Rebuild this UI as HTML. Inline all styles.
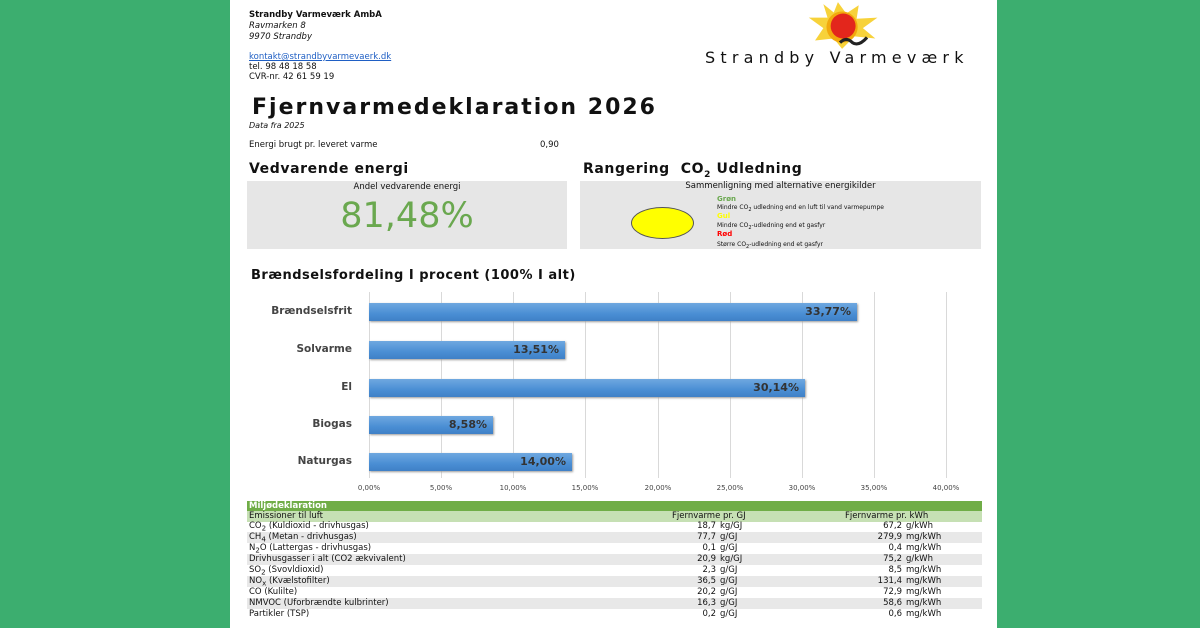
<!DOCTYPE html>
<html><head><meta charset="utf-8"><style>
*{margin:0;padding:0;box-sizing:border-box}
body{width:1200px;height:628px;background:#3cae6f;position:relative;overflow:hidden;font-family:"DejaVu Sans","Liberation Sans",sans-serif;color:#111}
.page{position:absolute;left:230px;top:0;width:767px;height:628px;background:#fff}
.a{position:absolute;white-space:nowrap}
.s{font-size:8.5px}
.grid{position:absolute;top:292px;width:1px;height:186px;background:#d9d9d9}
.bar{position:absolute;left:369px;height:18px;background:linear-gradient(#6fa8e0,#4a8ed4 60%,#3f80c6);box-shadow:1px 1px 2px #999;font-weight:bold;font-size:11px;color:#333;text-align:right;padding-right:6px;line-height:18px}
.cat{position:absolute;right:848px;font-size:10.5px;font-weight:bold;color:#444}
.tick{position:absolute;top:484px;font-size:7px;color:#444;width:40px;margin-left:-20px;text-align:center}
.row{position:absolute;left:247px;width:735px;height:11px;font-size:8.5px;line-height:11px}
.row span{position:absolute}
.g{background:#e8e8e8}
</style></head><body>
<div class="page"></div>
<div class="a s" style="left:249px;top:10px;font-weight:bold">Strandby Varmeværk AmbA</div>
<div class="a s" style="left:249px;top:21px;font-style:italic">Ravmarken 8</div>
<div class="a s" style="left:249px;top:32px;font-style:italic">9970 Strandby</div>
<div class="a s" style="left:249px;top:52px;color:#1f5fc4;text-decoration:underline">kontakt@strandbyvarmevaerk.dk</div>
<div class="a s" style="left:249px;top:62px">tel. 98 48 18 58</div>
<div class="a s" style="left:249px;top:72px">CVR-nr. 42 61 59 19</div>
<svg class="a" style="left:788px;top:1px" width="104" height="50" viewBox="0 0 100 48">
<polygon points="48,1 56,12 68,4 66,17 86,16 72,26 84,36 64,34 52,46 44,36 26,38 34,26 20,16 38,16 34,3 44,11" fill="#f7d23a"/>
<circle cx="52" cy="25" r="15" fill="#f2a90d"/><circle cx="53" cy="24" r="12" fill="#e3261c"/>
<path d="M50,40 q6,-6 12,0 q6,4 14,-5" stroke="#222" stroke-width="3" fill="none"/>
</svg>
<div class="a" style="left:705px;top:48px;font-size:16px;letter-spacing:5.2px;color:#111">Strandby Varmeværk</div>
<div class="a" style="left:252px;top:95px;font-size:22px;letter-spacing:2px;font-weight:bold">Fjernvarmedeklaration 2026</div>
<div class="a" style="left:249px;top:121px;font-size:8px;font-style:italic">Data fra 2025</div>
<div class="a s" style="left:249px;top:140px">Energi brugt pr. leveret varme</div>
<div class="a s" style="left:540px;top:140px">0,90</div>
<div class="a" style="left:249px;top:161px;font-size:14px;letter-spacing:0.6px;font-weight:bold">Vedvarende energi</div>
<div class="a" style="left:583px;top:161px;font-size:14px;letter-spacing:0.6px;font-weight:bold">Rangering&nbsp; CO<sub style="font-size:9px">2</sub> Udledning</div>
<div class="a" style="left:247px;top:181px;width:320px;height:68px;background:#e6e6e6"></div>
<div class="a s" style="left:247px;top:182px;width:320px;text-align:center">Andel vedvarende energi</div>
<div class="a" style="left:247px;top:196px;width:320px;text-align:center;font-size:35px;color:#6aa84f">81,48%</div>
<div class="a" style="left:580px;top:181px;width:401px;height:68px;background:#e6e6e6"></div>
<div class="a s" style="left:580px;top:181px;width:401px;text-align:center">Sammenligning med alternative energikilder</div>
<div class="a" style="left:631px;top:207px;width:63px;height:32px;border-radius:50%;background:#ffff00;border:1px solid #555"></div>
<div class="a" style="left:717px;top:195px;font-size:7px;font-weight:bold;color:#6aa84f">Grøn</div>
<div class="a" style="left:717px;top:204px;font-size:6px">Mindre CO<sub>2</sub> udledning end en luft til vand varmepumpe</div>
<div class="a" style="left:717px;top:212px;font-size:7px;font-weight:bold;color:#ffff00">Gul</div>
<div class="a" style="left:717px;top:222px;font-size:6px">Mindre CO<sub>2</sub>-udledning end et gasfyr</div>
<div class="a" style="left:717px;top:230px;font-size:7px;font-weight:bold;color:#ff0000">Rød</div>
<div class="a" style="left:717px;top:241px;font-size:6px">Større CO<sub>2</sub>-udledning end et gasfyr</div>
<div class="a" style="left:251px;top:268px;font-size:13px;letter-spacing:0.5px;font-weight:bold">Brændselsfordeling I procent (100% I alt)</div>
<div class="grid" style="left:369px"></div><div class="grid" style="left:441px"></div><div class="grid" style="left:513px"></div><div class="grid" style="left:585px"></div><div class="grid" style="left:658px"></div><div class="grid" style="left:730px"></div><div class="grid" style="left:802px"></div><div class="grid" style="left:874px"></div><div class="grid" style="left:946px"></div>
<div class="bar" style="top:303px;width:488px">33,77%</div>
<div class="bar" style="top:341px;width:196px">13,51%</div>
<div class="bar" style="top:379px;width:436px">30,14%</div>
<div class="bar" style="top:416px;width:124px">8,58%</div>
<div class="bar" style="top:453px;width:203px">14,00%</div>
<div class="cat" style="top:305px">Brændselsfrit</div>
<div class="cat" style="top:343px">Solvarme</div>
<div class="cat" style="top:381px">El</div>
<div class="cat" style="top:418px">Biogas</div>
<div class="cat" style="top:455px">Naturgas</div>
<div class="tick" style="left:369px">0,00%</div><div class="tick" style="left:441px">5,00%</div><div class="tick" style="left:513px">10,00%</div><div class="tick" style="left:585px">15,00%</div><div class="tick" style="left:658px">20,00%</div><div class="tick" style="left:730px">25,00%</div><div class="tick" style="left:802px">30,00%</div><div class="tick" style="left:874px">35,00%</div><div class="tick" style="left:946px">40,00%</div>
<div class="row" style="top:501px;background:#70ad47;color:#fff;font-weight:bold"><span style="left:2px">Miljødeklaration</span></div>
<div class="row" style="top:511px;background:#c6e0b4"><span style="left:2px">Emissioner til luft</span><span style="left:425px">Fjernvarme pr. GJ</span><span style="left:598px">Fjernvarme pr. kWh</span></div>
<div class="row" style="top:521px"><span style="left:2px">CO<sub>2</sub> (Kuldioxid - drivhusgas)</span><span style="right:266px">18,7</span><span style="left:473px">kg/GJ</span><span style="right:80px">67,2</span><span style="left:659px">g/kWh</span></div>
<div class="row g" style="top:532px"><span style="left:2px">CH<sub>4</sub> (Metan - drivhusgas)</span><span style="right:266px">77,7</span><span style="left:473px">g/GJ</span><span style="right:80px">279,9</span><span style="left:659px">mg/kWh</span></div>
<div class="row" style="top:543px"><span style="left:2px">N<sub>2</sub>O (Lattergas - drivhusgas)</span><span style="right:266px">0,1</span><span style="left:473px">g/GJ</span><span style="right:80px">0,4</span><span style="left:659px">mg/kWh</span></div>
<div class="row g" style="top:554px"><span style="left:2px">Drivhusgasser i alt (CO2 ækvivalent)</span><span style="right:266px">20,9</span><span style="left:473px">kg/GJ</span><span style="right:80px">75,2</span><span style="left:659px">g/kWh</span></div>
<div class="row" style="top:565px"><span style="left:2px">SO<sub>2</sub> (Svovldioxid)</span><span style="right:266px">2,3</span><span style="left:473px">g/GJ</span><span style="right:80px">8,5</span><span style="left:659px">mg/kWh</span></div>
<div class="row g" style="top:576px"><span style="left:2px">NO<sub>x</sub> (Kvælstofilter)</span><span style="right:266px">36,5</span><span style="left:473px">g/GJ</span><span style="right:80px">131,4</span><span style="left:659px">mg/kWh</span></div>
<div class="row" style="top:587px"><span style="left:2px">CO (Kulilte)</span><span style="right:266px">20,2</span><span style="left:473px">g/GJ</span><span style="right:80px">72,9</span><span style="left:659px">mg/kWh</span></div>
<div class="row g" style="top:598px"><span style="left:2px">NMVOC (Uforbrændte kulbrinter)</span><span style="right:266px">16,3</span><span style="left:473px">g/GJ</span><span style="right:80px">58,6</span><span style="left:659px">mg/kWh</span></div>
<div class="row" style="top:609px"><span style="left:2px">Partikler (TSP)</span><span style="right:266px">0,2</span><span style="left:473px">g/GJ</span><span style="right:80px">0,6</span><span style="left:659px">mg/kWh</span></div>
</body></html>
